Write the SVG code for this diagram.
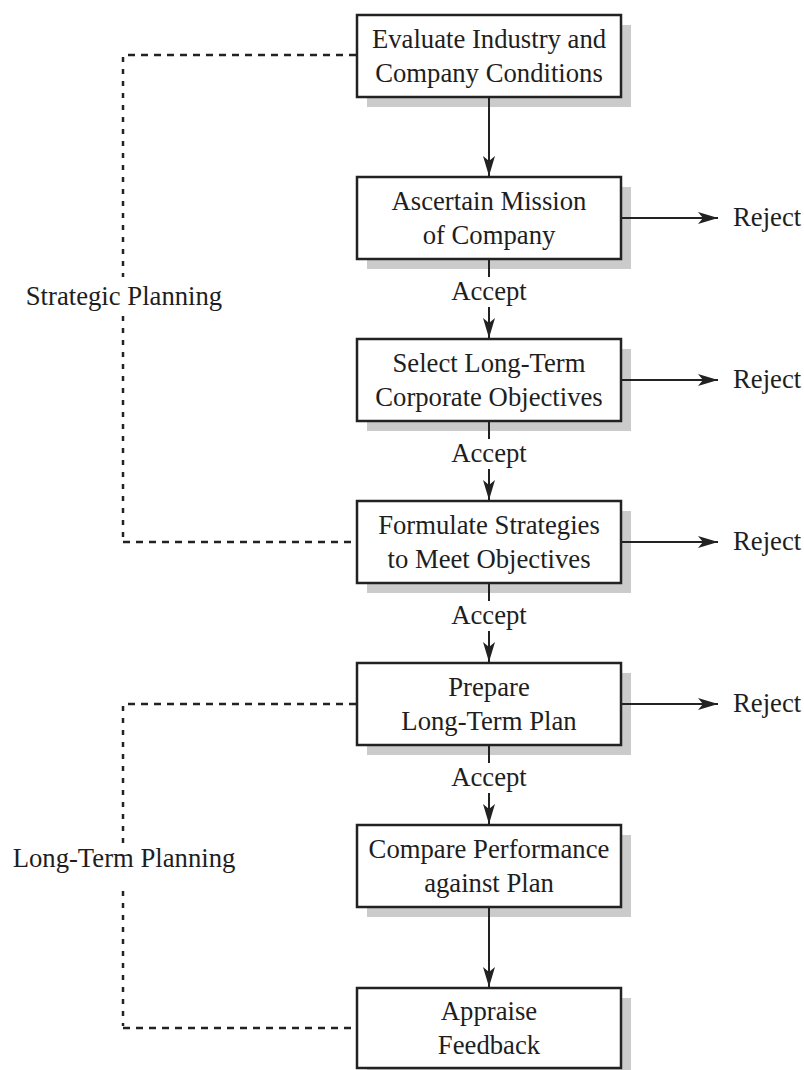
<svg xmlns="http://www.w3.org/2000/svg" width="804" height="1070" viewBox="0 0 804 1070">
<style>
  text { font-family: "Liberation Serif", "Times New Roman", serif; font-size: 26.7px; fill: #1e1e1e; }
  .c { text-anchor: middle; }
  .box { fill: #fff; stroke: #222; stroke-width: 2.5; }
  .shadow { fill: #cbcbcb; }
  .ln { stroke: #222; stroke-width: 2; fill: none; }
  .dh { stroke: #222; stroke-width: 2.5; fill: none; stroke-dasharray: 7 6; }
  .dv { stroke: #222; stroke-width: 2.5; fill: none; stroke-dasharray: 5 7; }
</style>
<defs>
  <marker id="ah" markerWidth="22" markerHeight="14" refX="20" refY="7" orient="auto" markerUnits="userSpaceOnUse">
    <path d="M0,1 L20,7 L0,13 L5,7 Z" fill="#222"/>
  </marker>
</defs>

<g id="n1">
  <rect class="shadow" x="367" y="25" width="264" height="82"/>
  <rect class="box" x="357" y="15" width="264" height="82"/>
  <text class="c" x="489" y="48">Evaluate Industry and</text>
  <text class="c" x="489" y="82">Company Conditions</text>
</g>
<g id="n2">
  <rect class="shadow" x="367" y="187" width="264" height="82"/>
  <rect class="box" x="357" y="177" width="264" height="82"/>
  <text class="c" x="489" y="210">Ascertain Mission</text>
  <text class="c" x="489" y="244">of Company</text>
</g>
<g id="n3">
  <rect class="shadow" x="367" y="349" width="264" height="82"/>
  <rect class="box" x="357" y="339" width="264" height="82"/>
  <text class="c" x="489" y="372">Select Long-Term</text>
  <text class="c" x="489" y="406">Corporate Objectives</text>
</g>
<g id="n4">
  <rect class="shadow" x="367" y="511" width="264" height="82"/>
  <rect class="box" x="357" y="501" width="264" height="82"/>
  <text class="c" x="489" y="534">Formulate Strategies</text>
  <text class="c" x="489" y="568">to Meet Objectives</text>
</g>
<g id="n5">
  <rect class="shadow" x="367" y="673" width="264" height="82"/>
  <rect class="box" x="357" y="663" width="264" height="82"/>
  <text class="c" x="489" y="696">Prepare</text>
  <text class="c" x="489" y="730">Long-Term Plan</text>
</g>
<g id="n6">
  <rect class="shadow" x="367" y="835" width="264" height="82"/>
  <rect class="box" x="357" y="825" width="264" height="82"/>
  <text class="c" x="489" y="858">Compare Performance</text>
  <text class="c" x="489" y="892">against Plan</text>
</g>
<g id="n7">
  <rect class="shadow" x="367" y="998" width="264" height="80"/>
  <rect class="box" x="357" y="988" width="264" height="80"/>
  <text class="c" x="489" y="1020">Appraise</text>
  <text class="c" x="489" y="1054">Feedback</text>
</g>

<g id="connectors">
  <!-- Strategic planning bracket -->
  <path class="dh" d="M356,55 H123"/>
  <path class="dv" d="M123,57 V277"/>
  <path class="dv" d="M123,316 V540"/>
  <path class="dh" d="M123,542 H356"/>
  <!-- Long-term planning bracket -->
  <path class="dh" d="M356,704 H123"/>
  <path class="dv" d="M123,706 V845"/>
  <path class="dv" d="M123,891 V1026"/>
  <path class="dh" d="M123,1028 H356"/>

  <!-- vertical flow -->
  <line class="ln" x1="489" y1="98" x2="489" y2="176" marker-end="url(#ah)"/>
  <line class="ln" x1="489" y1="260" x2="489" y2="277"/>
  <line class="ln" x1="489" y1="307" x2="489" y2="338" marker-end="url(#ah)"/>
  <line class="ln" x1="489" y1="422" x2="489" y2="439"/>
  <line class="ln" x1="489" y1="469" x2="489" y2="500" marker-end="url(#ah)"/>
  <line class="ln" x1="489" y1="584" x2="489" y2="601"/>
  <line class="ln" x1="489" y1="631" x2="489" y2="662" marker-end="url(#ah)"/>
  <line class="ln" x1="489" y1="746" x2="489" y2="763"/>
  <line class="ln" x1="489" y1="793" x2="489" y2="824" marker-end="url(#ah)"/>
  <line class="ln" x1="489" y1="908" x2="489" y2="987" marker-end="url(#ah)"/>

  <!-- reject arrows -->
  <line class="ln" x1="622" y1="218" x2="718" y2="218" marker-end="url(#ah)"/>
  <line class="ln" x1="622" y1="380" x2="718" y2="380" marker-end="url(#ah)"/>
  <line class="ln" x1="622" y1="542" x2="718" y2="542" marker-end="url(#ah)"/>
  <line class="ln" x1="622" y1="704" x2="718" y2="704" marker-end="url(#ah)"/>

  <!-- labels -->
  <text class="c" x="489" y="300">Accept</text>
  <text class="c" x="489" y="462">Accept</text>
  <text class="c" x="489" y="624">Accept</text>
  <text class="c" x="489" y="786">Accept</text>
  <text x="733" y="226">Reject</text>
  <text x="733" y="388">Reject</text>
  <text x="733" y="550">Reject</text>
  <text x="733" y="712">Reject</text>
  <text class="c" x="124" y="305">Strategic Planning</text>
  <text class="c" x="124" y="867">Long-Term Planning</text>
</g>
</svg>
